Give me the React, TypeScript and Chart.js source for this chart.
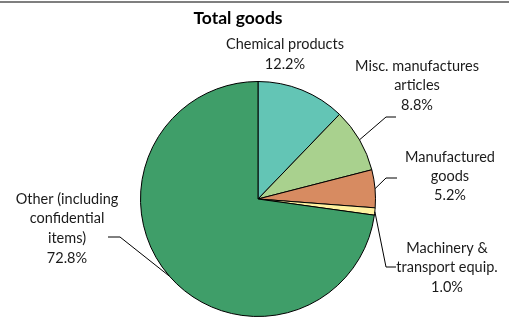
import React, { useEffect, useRef } from "react";
import { Chart, registerables } from "chart.js";

Chart.register(...registerables);

const categories = [
  "Chemical products",
  "Misc. manufactures articles",
  "Manufactured goods",
  "Machinery & transport equip.",
  "Other (including confidential items)",
];
const shares = [12.2, 8.8, 5.2, 1.0, 72.8];
const colors = ["#63C5B5", "#A9D18E", "#D78B61", "#FFF2A0", "#3F9E69"];
const labelLines = [
  ["Chemical products", "12.2%"],
  ["Misc. manufactures", "articles", "8.8%"],
  ["Manufactured", "goods", "5.2%"],
  ["Machinery &", "transport equip.", "1.0%"],
  ["Other (including", "confidential", "items)", "72.8%"],
];
const titleText = "Total goods";

// label layout: text center x, first line center y, line height, elbow and end of leader
const labelLayout = [
  { x: 285, y: 44, lh: 20, leader: null as null | number[][] },
  { x: 417, y: 66, lh: 19.5, leader: [[386, 117], [396, 117]] },
  { x: 450, y: 157, lh: 19, leader: [[386, 178], [397, 178]] },
  { x: 447, y: 248, lh: 19.5, leader: [[386, 267], [396, 267]] },
  { x: 67, y: 199, lh: 19.7, leader: [[120, 237], [108, 237]] },
];

const FONT = "Lato, 'Open Sans', sans-serif";

const labelPlugin = {
  id: "pieLabels",
  afterDraw(chart: any) {
    const ctx = chart.ctx;
    const meta = chart.getDatasetMeta(0);
    ctx.save();
    // top frame line
    ctx.fillStyle = "#7f7f7f";
    ctx.fillRect(0, 1, chart.width, 2);
    // title
    ctx.fillStyle = "#000000";
    ctx.font = `bold 17.5px ${FONT}`;
    ctx.textAlign = "center";
    ctx.textBaseline = "middle";
    ctx.fillText(titleText, 238, 18);

    ctx.font = `14.5px ${FONT}`;
    ctx.fillStyle = "#1a1a1a";
    meta.data.forEach((arc: any, i: number) => {
      const L = labelLayout[i];
      const lines = labelLines[i];
      lines.forEach((t, k) => ctx.fillText(t, L.x, L.y + k * L.lh));
      if (L.leader) {
        const mid = (arc.startAngle + arc.endAngle) / 2;
        const r = arc.outerRadius;
        const sx = arc.x + Math.cos(mid) * r;
        const sy = arc.y + Math.sin(mid) * r;
        ctx.beginPath();
        ctx.strokeStyle = "#000000";
        ctx.lineWidth = 1;
        ctx.moveTo(sx, sy);
        L.leader.forEach((p) => ctx.lineTo(p[0], p[1]));
        ctx.stroke();
      }
    });
    ctx.restore();
  },
};

export default function App() {
  const ref = useRef<HTMLCanvasElement>(null);
  useEffect(() => {
    document.body.style.margin = "0";
    const chart = new Chart(ref.current!, {
      type: "pie",
      data: {
        labels: categories,
        datasets: [
          {
            data: shares,
            backgroundColor: colors,
            borderColor: "#000000",
            borderWidth: 1,
          },
        ],
      },
      options: {
        animation: false,
        responsive: false,
        layout: { padding: { top: 81, left: 140, right: 133, bottom: 0 } },
        plugins: {
          legend: { display: false },
          title: { display: false },
          tooltip: { enabled: false },
        },
      },
      plugins: [labelPlugin],
    });
    return () => chart.destroy();
  }, []);
  return (
    <div style={{ width: 509, height: 317, background: "#fff" }}>
      <canvas ref={ref} width={509} height={317} />
    </div>
  );
}
